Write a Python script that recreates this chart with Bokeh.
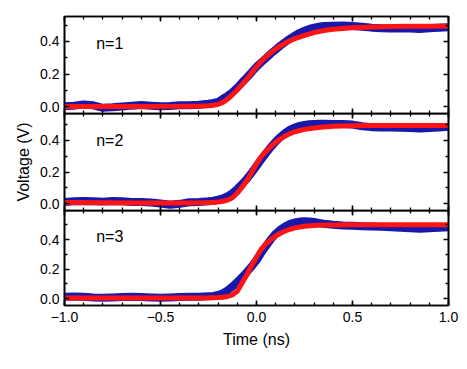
from bokeh.plotting import figure
from bokeh.layouts import column
from bokeh.models import (Range1d, LinearAxis, SingleIntervalTicker, Label, FixedTicker,
                          PrintfTickFormatter, CustomJSTickFormatter)
from bokeh.embed import file_html
from bokeh.resources import INLINE

# ---------------- data ----------------
t_data = [-1.00, -0.95, -0.90, -0.85, -0.80, -0.75, -0.70, -0.65, -0.60, -0.55,
          -0.50, -0.45, -0.40, -0.35, -0.30,
          -0.25, -0.225, -0.20, -0.175, -0.15, -0.125, -0.10, -0.075, -0.05, -0.025,
          0.00, 0.025, 0.05, 0.075, 0.10, 0.125, 0.15, 0.175, 0.20, 0.225,
          0.25, 0.275, 0.30, 0.325, 0.35,
          0.40, 0.45, 0.50, 0.55, 0.60, 0.65, 0.70, 0.75, 0.80, 0.85, 0.90, 0.95, 1.00]

meas_n1 = [0.005, 0.008, 0.015, 0.010, -0.005, -0.002, 0.003, 0.008, 0.012, 0.008,
           0.004, 0.006, 0.010, 0.010, 0.014,
           0.020, 0.024, 0.030, 0.050, 0.068, 0.090, 0.118, 0.150, 0.180, 0.212,
           0.245, 0.272, 0.298, 0.326, 0.350, 0.374, 0.396, 0.417, 0.436, 0.452,
           0.465, 0.476, 0.484, 0.490, 0.494,
           0.496, 0.497, 0.494, 0.490, 0.484, 0.480, 0.478, 0.480, 0.478, 0.476, 0.480, 0.484, 0.486]

meas_n2 = [0.012, 0.016, 0.018, 0.016, 0.014, 0.018, 0.016, 0.012, 0.012, 0.008,
           0.002, -0.006, 0.000, 0.010, 0.012,
           0.016, 0.020, 0.026, 0.034, 0.048, 0.068, 0.094, 0.124, 0.158, 0.196,
           0.238, 0.280, 0.320, 0.358, 0.392, 0.422, 0.448, 0.468, 0.482, 0.492,
           0.498, 0.502, 0.504, 0.505, 0.505,
           0.504, 0.503, 0.500, 0.490, 0.484, 0.482, 0.482, 0.480, 0.478, 0.476, 0.478, 0.482, 0.486]

meas_n3 = [0.012, 0.014, 0.012, 0.008, 0.006, 0.008, 0.010, 0.012, 0.010, 0.008,
           0.006, 0.008, 0.010, 0.012, 0.012,
           0.016, 0.018, 0.024, 0.036, 0.056, 0.082, 0.112, 0.145, 0.180, 0.218,
           0.260, 0.310, 0.358, 0.402, 0.440, 0.468, 0.490, 0.506, 0.516, 0.522,
           0.524, 0.523, 0.519, 0.513, 0.507,
           0.500, 0.496, 0.494, 0.490, 0.488, 0.486, 0.484, 0.480, 0.476, 0.474, 0.476, 0.480, 0.484]

t_fit = [-1.0, -0.8, -0.6, -0.4, -0.3, -0.25, -0.225, -0.20, -0.175, -0.15, -0.125,
         -0.10, -0.075, -0.05, -0.025, 0.0, 0.025, 0.05, 0.075, 0.10, 0.125, 0.15,
         0.175, 0.20, 0.25, 0.30, 0.35, 0.40, 0.50, 0.60, 0.70, 0.80, 0.90, 1.0]

fit_n1 = [0.003, 0.003, 0.003, 0.004, 0.005, 0.007, 0.010, 0.016, 0.028, 0.048, 0.075,
          0.105, 0.138, 0.172, 0.208, 0.245, 0.278, 0.306, 0.332, 0.354, 0.373, 0.390,
          0.404, 0.417, 0.437, 0.454, 0.466, 0.474, 0.483, 0.488, 0.491, 0.492, 0.493, 0.494]

fit_n2 = [0.008, 0.007, 0.006, 0.006, 0.007, 0.008, 0.009, 0.011, 0.016, 0.024, 0.038,
          0.068, 0.105, 0.148, 0.200, 0.253, 0.298, 0.332, 0.362, 0.388, 0.410, 0.428,
          0.443, 0.455, 0.470, 0.479, 0.485, 0.489, 0.492, 0.494, 0.495, 0.495, 0.495, 0.495]

fit_n3 = [0.004, 0.004, 0.004, 0.004, 0.004, 0.005, 0.006, 0.007, 0.009, 0.014, 0.025,
          0.050, 0.105, 0.162, 0.225, 0.282, 0.335, 0.372, 0.400, 0.424, 0.443, 0.458,
          0.470, 0.479, 0.490, 0.495, 0.498, 0.499, 0.500, 0.500, 0.500, 0.500, 0.500, 0.500]

panel_labels = ["n=1", "n=2", "n=3"]
y_ticks = [0.0, 0.2, 0.4]
y_minor = [0.1, 0.3, 0.5]

FONT = "Liberation Sans"
BLUE = "#0c0ca8"
RED = "#ff1414"
OVERLAP = 5  # px of bottom border that the next panel draws over (transparent)


def style_axis(ax, show_labels):
    ax.axis_line_width = 1.6
    ax.axis_line_color = "black"
    ax.major_tick_in = 5
    ax.major_tick_out = 0
    ax.minor_tick_in = 3
    ax.minor_tick_out = 0
    ax.major_tick_line_width = 1.6
    ax.minor_tick_line_width = 1.3
    ax.major_tick_line_color = "black"
    ax.minor_tick_line_color = "black"
    ax.major_label_text_font = FONT
    ax.major_label_text_color = "black"
    ax.major_label_text_font_size = "14px"
    ax.axis_label_text_font = FONT
    ax.axis_label_text_font_style = "normal"
    ax.axis_label_text_font_size = "16px"
    ax.axis_label_text_color = "black"
    if show_labels:
        ax.formatter = PrintfTickFormatter(format="%.1f")
    else:
        ax.formatter = CustomJSTickFormatter(code="return ''")
        ax.major_label_standoff = 0


def make_panel(idx, t_meas, meas, fit, yrange, frame_h, top, bottom, show_x, ylabel,
               label_y, margin_top):
    p = figure(width=460, height=frame_h + top + bottom, output_backend="svg",
               toolbar_location=None,
               x_range=Range1d(-1.0, 1.0), y_range=Range1d(*yrange),
               min_border_left=64, min_border_right=12,
               min_border_top=top, min_border_bottom=bottom,
               margin=(margin_top, 0, 0, 0))
    p.xgrid.visible = False
    p.ygrid.visible = False
    p.outline_line_color = "black"
    p.outline_line_width = 1.6
    p.background_fill_color = "white"
    p.border_fill_color = "white"
    if margin_top < 0:
        p.background_fill_alpha = 0
        p.border_fill_alpha = 0

    p.line(t_meas, meas, line_color=BLUE, line_width=8, line_alpha=0.95)
    p.line(t_fit, fit, line_color=RED, line_width=5)

    p.xaxis.ticker = SingleIntervalTicker(interval=0.5, num_minor_ticks=5)
    p.yaxis.ticker = FixedTicker(ticks=y_ticks, minor_ticks=y_minor)

    style_axis(p.xaxis[0], show_x)
    style_axis(p.yaxis[0], True)
    p.yaxis.major_label_standoff = 5
    if show_x:
        p.xaxis.major_label_overrides = {-1.0: "\u22121.0", -0.5: "\u22120.5"}
        p.xaxis.major_label_standoff = 6
        p.xaxis.axis_label = "Time (ns)"
        p.xaxis.axis_label_standoff = 6
    if ylabel:
        p.yaxis.axis_label = ylabel
        p.yaxis.axis_label_standoff = 5

    top_ax = LinearAxis(ticker=SingleIntervalTicker(interval=0.5, num_minor_ticks=5))
    style_axis(top_ax, False)
    p.add_layout(top_ax, "above")
    right_ax = LinearAxis(ticker=FixedTicker(ticks=y_ticks, minor_ticks=y_minor))
    style_axis(right_ax, False)
    p.add_layout(right_ax, "right")

    p.add_layout(Label(x=-0.835, y=label_y, text=panel_labels[idx], text_font=FONT,
                       text_font_size="16px", text_baseline="middle", text_color="black"))
    return p


p1 = make_panel(0, t_data, meas_n1, fit_n1, (-0.04, 0.552), 97, 16, OVERLAP, False, None,
                0.385, 0)
p2 = make_panel(1, t_data, meas_n2, fit_n2, (-0.042, 0.57), 97, 0, OVERLAP, False,
                "Voltage (V)", 0.40, -OVERLAP)
p3 = make_panel(2, t_data, meas_n3, fit_n3, (-0.047, 0.597), 95, 0, 56, True, None,
                0.42, -OVERLAP)

layout = column(p1, p2, p3, spacing=0)

open("out.html", "w").write(file_html(layout, INLINE))
